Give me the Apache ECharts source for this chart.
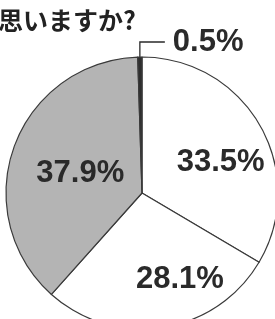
<!DOCTYPE html>
<html>
<head>
<meta charset="utf-8">
<script src="https://cdn.jsdelivr.net/npm/echarts@6/dist/echarts.min.js"></script>
<style>
html,body{margin:0;padding:0;background:#fff;}
#c{width:275px;height:319px;}
</style>
</head>
<body>
<div id="c"></div>
<script>
var titleText = '思いますか?';
var categories = ['回答1', '回答2', '回答3', '回答4'];
var values = [33.5, 28.1, 37.9, 0.5];
var valueLabels = ['33.5%', '28.1%', '37.9%', '0.5%'];

var sliceColors = ['#ffffff', '#ffffff', '#b4b4b4', '#2e2e2e'];
var labelOffsets = [[17, 5], [27, 16], [5, 5], [0, 0]];

var chart = echarts.init(document.getElementById('c'), null, {renderer: 'canvas'});
var data = values.map(function (v, i) {
  var d = {
    name: categories[i],
    value: v,
    itemStyle: {color: sliceColors[i]},
    label: {offset: labelOffsets[i]}
  };
  if (i === values.length - 1) {
    d.label = {position: 'outside', align: 'left'};
    d.labelLine = {show: true};
  }
  return d;
});

chart.setOption({
  animation: false,
  backgroundColor: '#ffffff',
  title: {
    text: titleText,
    left: -2,
    top: 8,
    padding: 0,
    textStyle: {
      fontFamily: 'Noto Sans CJK JP',
      fontWeight: 'bold',
      fontSize: 25,
      color: '#222222'
    }
  },
  series: [{
    type: 'pie',
    center: [142, 193],
    radius: [0, 136],
    startAngle: 90,
    clockwise: true,
    avoidLabelOverlap: false,
    silent: true,
    itemStyle: {borderColor: '#3a3a3a', borderWidth: 1.2},
    label: {
      show: true,
      position: 'inside',
      formatter: function (p) { return valueLabels[p.dataIndex]; },
      fontFamily: 'Liberation Sans',
      fontWeight: 'bold',
      fontSize: 31,
      color: '#2a2a2a'
    },
    labelLine: {show: false, lineStyle: {color: '#2a2a2a', width: 1.3}},
    labelLayout: function (params) {
      if (params.dataIndex !== values.length - 1 || !params.labelLinePoints) return {};
      var p0 = params.labelLinePoints[0];
      var up = 15, run = 25;
      return {
        x: p0[0] + run + 8,
        y: p0[1] - up,
        align: 'left',
        verticalAlign: 'middle',
        labelLinePoints: [[p0[0], p0[1]], [p0[0], p0[1] - up], [p0[0] + run, p0[1] - up]]
      };
    },
    data: data
  }]
});
</script>
</body>
</html>
